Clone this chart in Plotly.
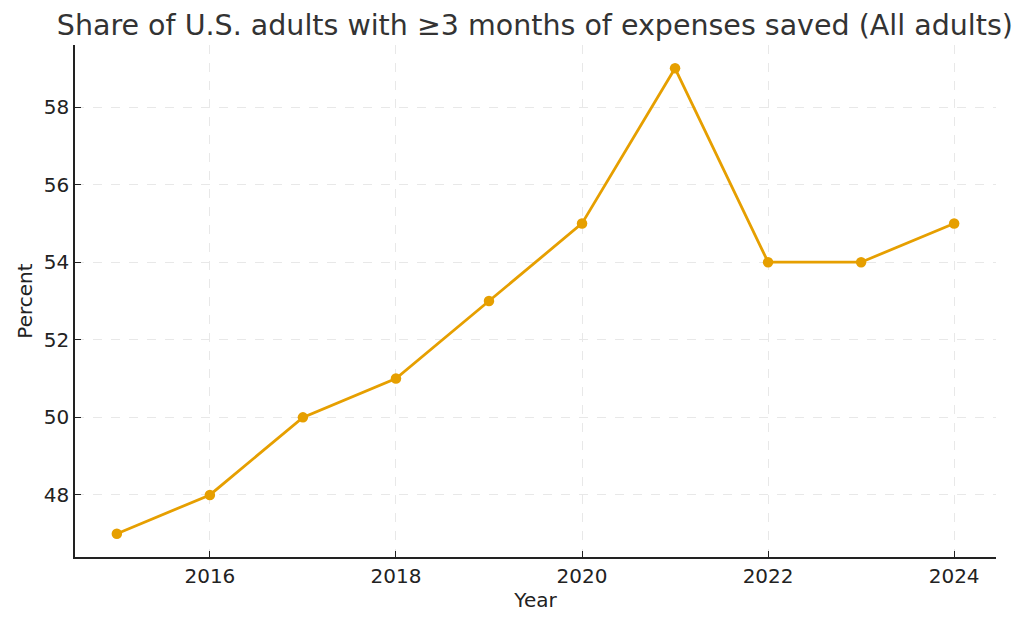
import plotly.graph_objects as go

years = [2015, 2016, 2017, 2018, 2019, 2020, 2021, 2022, 2023, 2024]
percent = [47, 48, 50, 51, 53, 55, 59, 54, 54, 55]
x_ticks = [2016, 2018, 2020, 2022, 2024]
y_ticks = [48, 50, 52, 54, 56, 58]

fig = go.Figure()
fig.add_trace(go.Scatter(
    x=years, y=percent, mode="lines+markers",
    line=dict(color="#E69F00", width=2.8),
    marker=dict(color="#E69F00", size=10.5),
    showlegend=False,
))

axis_common = dict(
    showline=True, linecolor="#222", linewidth=1.5,
    ticks="inside", ticklen=6, tickwidth=1.2, tickcolor="#222",
    showgrid=True, gridcolor="#e8e8e8", griddash="dash", gridwidth=1,
    zeroline=False, mirror=False,
    tickfont=dict(family="DejaVu Sans", size=20, color="#222"),
)

fig.update_layout(
    width=1023, height=625,
    paper_bgcolor="white", plot_bgcolor="white",
    margin=dict(l=67, r=35, t=37, b=76),
    title=dict(
        text="Share of U.S. adults with ≥3 months of expenses saved (All adults)",
        x=0.515, xanchor="center", y=0.973, yanchor="middle",
        font=dict(family="DejaVu Sans", size=28.5, color="#333"),
    ),
    xaxis=dict(
        range=[2014.55, 2024.45], tickvals=x_ticks,
        title=dict(text="Year", font=dict(family="DejaVu Sans", size=20, color="#222"), standoff=6),
        **axis_common,
    ),
    yaxis=dict(
        range=[46.4, 59.6], tickvals=y_ticks,
        title=dict(text="Percent", font=dict(family="DejaVu Sans", size=20, color="#222"), standoff=6),
        **axis_common,
    ),
)

fig.write_html("out.html")
